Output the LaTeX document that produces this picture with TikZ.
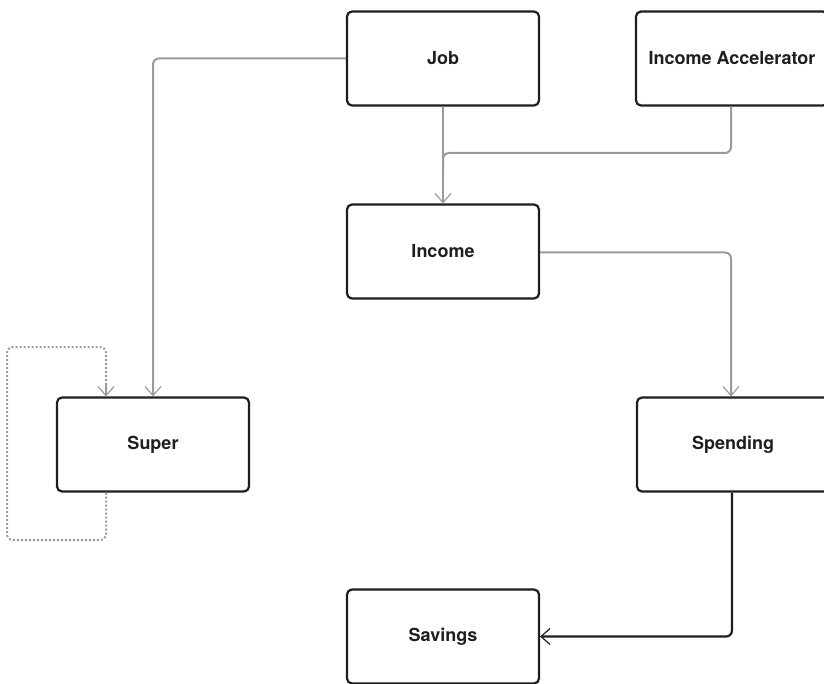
\documentclass[tikz,border=0pt]{standalone}
\usepackage{fontspec}
\setmainfont{TeX Gyre Heros}
\usetikzlibrary{arrows.meta}
\definecolor{linkgray}{HTML}{9A9A9A}
\definecolor{boxline}{HTML}{1E1E1E}
\tikzset{
  card/.style={draw=boxline, line width=2.2pt, rounded corners=5pt, fill=white,
    minimum width=192pt, minimum height=94pt, inner sep=0pt,
    font=\fontsize{18}{20}\selectfont\bfseries, text=boxline},
  barb/.style={-{Straight Barb[length=9pt,width=16pt,line width=1.2pt]}},
  flow/.style={draw=linkgray, line width=2pt, rounded corners=6pt, barb},
  mainflow/.style={draw=boxline, line width=2.2pt, rounded corners=6pt, barb},
  loopflow/.style={draw=linkgray, line width=2pt, dash pattern=on 2pt off 2pt,
    rounded corners=6pt},
}
\begin{document}
\begin{tikzpicture}[x=1pt, y=-1pt]
  \useasboundingbox (0,0) rectangle (824,684);

  % boxes
  \node[card] (job)   at (443,58.5)  {Job};
  \node[card] (acc)   at (732,58.5)  {Income Accelerator};
  \node[card] (inc)   at (443,251.5) {Income};
  \node[card] (super) at (153,444.5) {Super};
  \node[card] (spend) at (733,444.5) {Spending};
  \node[card] (sav)   at (443,636.5) {Savings};

  % helper points for the bends
  \coordinate (merge) at (443,153);
  \coordinate (superOut) at ([xshift=-47pt]super.south);
  \coordinate (superIn)  at ([xshift=-47pt]super.north);
  \coordinate (loopA) at (106,540);
  \coordinate (loopB) at (7,540);
  \coordinate (loopC) at (7,347);
  \coordinate (loopD) at (106,347);

  % connectors
  \draw[flow] (job.west) -| (super.north);
  \draw[flow] (job.south) -- (inc.north);
  \draw[draw=linkgray, line width=2pt, rounded corners=6pt]
    ([xshift=-1pt]acc.south) |- (merge) -- ([yshift=-20pt]merge);
  \draw[flow] ([yshift=-1pt]inc.east) -| ([xshift=-2pt]spend.north);
  \draw[mainflow] ([xshift=-1pt]spend.south) |- (sav.east);

  % dotted self loop on Super
  \draw[loopflow] (superOut) -- (loopA) -- (loopB) -- (loopC) -- (loopD) -- (superIn);
  \draw[draw=linkgray, line width=1.6pt, barb] ([yshift=12pt]superIn) -- (superIn);
\end{tikzpicture}
\end{document}
